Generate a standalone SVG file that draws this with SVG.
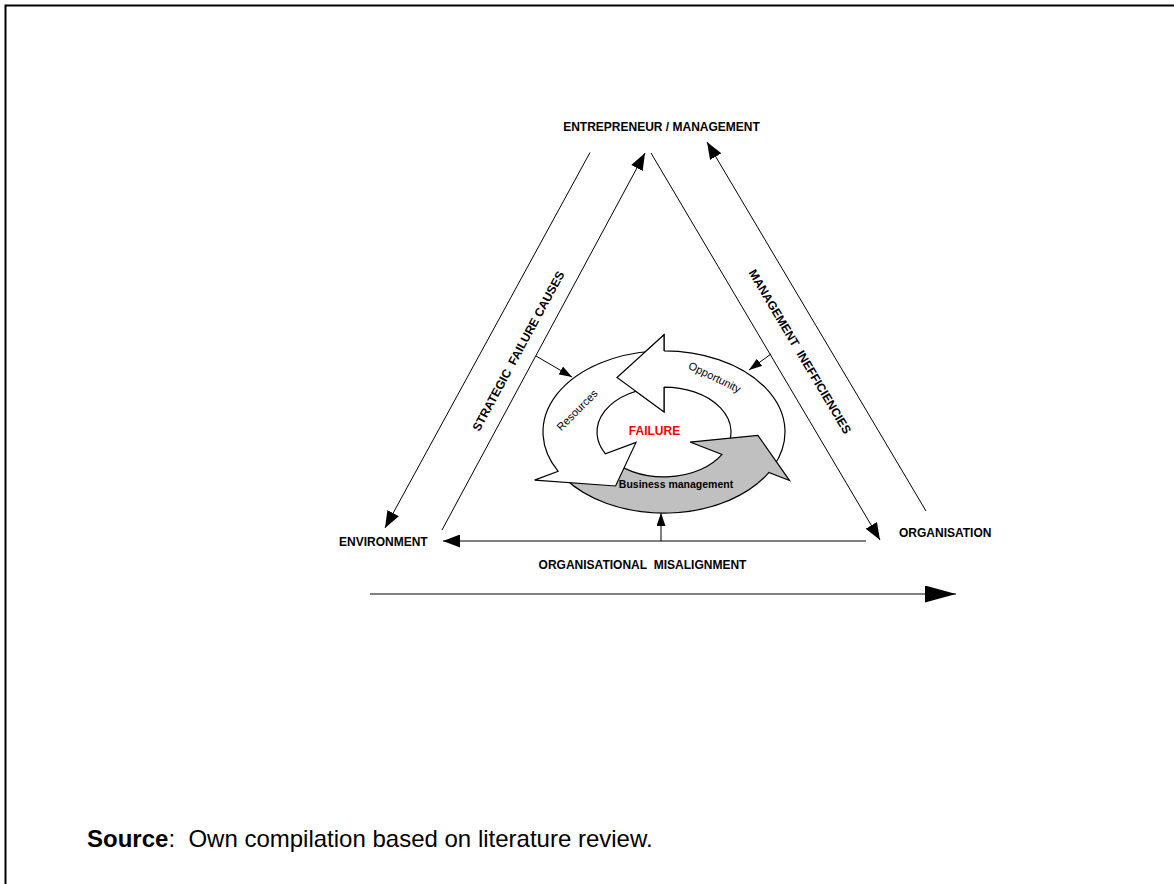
<svg xmlns="http://www.w3.org/2000/svg" width="1174" height="884" viewBox="0 0 1174 884">
<defs>
<marker id="ah" viewBox="0 0 17 13" refX="17" refY="6.5" markerWidth="17" markerHeight="13" markerUnits="userSpaceOnUse" orient="auto"><path d="M0,0 L17,6.5 L0,13 z" fill="#000"/></marker>
<marker id="ahL" viewBox="0 0 31 17" refX="31" refY="8.5" markerWidth="31" markerHeight="17" markerUnits="userSpaceOnUse" orient="auto"><path d="M0,0 L31,8.5 L0,17 z" fill="#000"/></marker>
<marker id="ahS" viewBox="0 0 13 9" refX="13" refY="4.5" markerWidth="13" markerHeight="9" markerUnits="userSpaceOnUse" orient="auto"><path d="M0,0 L13,4.5 L0,9 z" fill="#000"/></marker>
</defs>
<style>
.ln{stroke:#000;stroke-width:1;fill:none}
.lbl{font-family:"Liberation Sans",Arial,sans-serif;font-weight:bold;font-size:12px;fill:#000}
.seg{stroke:#000;stroke-width:1.2;vector-effect:non-scaling-stroke;stroke-linejoin:miter}
.ct{font-family:"Liberation Sans",Arial,sans-serif;font-size:11px;fill:#000}
</style>
<rect width="1174" height="884" fill="#fff"/>
<path d="M5.5,884 V5.5 H1174" stroke="#000" stroke-width="2" fill="none"/>

<g id="connectors">
<line class="ln" x1="590" y1="152.5" x2="385" y2="528" marker-end="url(#ah)"/>
<line class="ln" x1="442" y1="530" x2="645" y2="153" marker-end="url(#ah)"/>
<line class="ln" x1="651" y1="153" x2="880" y2="540" marker-end="url(#ah)"/>
<line class="ln" x1="926" y1="511" x2="707" y2="142" marker-end="url(#ah)"/>
<line class="ln" x1="866" y1="541" x2="443" y2="541" marker-end="url(#ah)"/>
<line class="ln" x1="370" y1="594" x2="956" y2="594" marker-end="url(#ahL)"/>
<line class="ln" x1="536" y1="356" x2="572" y2="377" marker-end="url(#ahS)"/>
<line class="ln" x1="771" y1="354" x2="749" y2="370" marker-end="url(#ahS)"/>
<line class="ln" x1="661" y1="541" x2="661" y2="513" marker-end="url(#ahS)"/>
</g>

<g id="node-entrepreneur"><text class="lbl" x="661.5" y="131" text-anchor="middle">ENTREPRENEUR / MANAGEMENT</text></g>
<g id="node-environment"><text class="lbl" x="339" y="546">ENVIRONMENT</text></g>
<g id="node-organisation"><text class="lbl" x="899" y="537">ORGANISATION</text></g>
<g id="label-strategic"><text class="lbl" x="522" y="353" text-anchor="middle" transform="rotate(-61.6 522 353)">STRATEGIC&#160; FAILURE CAUSES</text></g>
<g id="label-management"><text class="lbl" x="796.3" y="353.7" text-anchor="middle" transform="rotate(59.3 796.3 353.7)">MANAGEMENT&#160; INEFFICIENCIES</text></g>
<g id="label-misalignment"><text class="lbl" x="642.5" y="569" text-anchor="middle">ORGANISATIONAL&#160; MISALIGNMENT</text></g>

<g id="node-cycle">
<g transform="translate(664,432) scale(1,0.67)">
<path class="seg" fill="#fff" d="M109.66,51.14 A121,121 0 0 0 0,-121 L0,-145 L-47,-81.41 L0,-30 L0,-67 A67,67 0 0 1 60.72,28.32 Z"/>
<path class="seg" fill="#c0c0c0" d="M-99.12,69.40 A121,121 0 0 0 104.79,60.5 L125.57,72.5 L93.87,4.92 L25.98,15 L58.02,33.5 A67,67 0 0 1 -54.88,38.43 Z"/>
<path class="seg" fill="#fff" d="M-10.55,-120.54 A121,121 0 0 0 -105.83,58.66 L-129.44,71.75 L-48.41,80.58 L-27.99,15.51 L-58.60,32.48 A67,67 0 0 1 -5.84,-66.74 Z"/>
<polygon points="0,-145 -47,-81.41 0,-30" fill="#fff"/>
<polyline class="seg" fill="none" points="0,-121 0,-145 -47,-81.41 0,-30 0,-67"/>
</g>
<text class="ct" x="713" y="380.6" text-anchor="middle" transform="rotate(26 713 380.6)">Opportunity</text>
<text class="ct" x="579.8" y="412.8" text-anchor="middle" transform="rotate(-45 579.8 412.8)">Resources</text>
<text x="654.5" y="435" text-anchor="middle" style="font-family:'Liberation Sans',Arial,sans-serif;font-weight:bold;font-size:12px;fill:#ff0000">FAILURE</text>
<text x="676" y="488" text-anchor="middle" style="font-family:'Liberation Sans',Arial,sans-serif;font-weight:bold;font-size:10.5px;fill:#000">Business management</text>
</g>

<g id="source"><text x="87" y="847" style="font-family:'Liberation Sans',Arial,sans-serif;font-size:24px;fill:#000"><tspan font-weight="bold">Source</tspan>:&#160; Own compilation based on literature review.</text></g>
</svg>
